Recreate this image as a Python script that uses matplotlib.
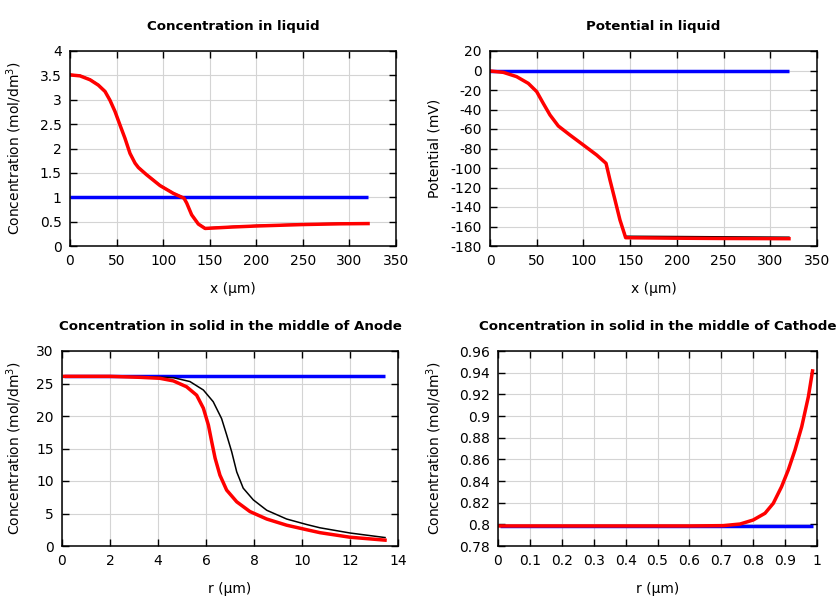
import matplotlib

matplotlib.use("Agg")
import matplotlib.pyplot as plt
from matplotlib.ticker import FuncFormatter, MultipleLocator

plt.rcParams["axes.unicode_minus"] = False
plt.rcParams["font.size"] = 10

# --- concentration in liquid (x in um, mol/dm3)
cl_x = [0, 10.7, 21.5, 30.4, 37.6, 42.9, 48.3, 53.7, 59, 64.4, 69.8, 73.4, 82.3, 96.6, 110.9, 122.4,
        125.3, 130.6, 137.8, 145, 175, 200, 250, 290, 320]
cl_red = [3.51, 3.49, 3.41, 3.30, 3.17, 2.99, 2.76, 2.48, 2.21, 1.90, 1.70, 1.61, 1.46, 1.24, 1.08, 0.98,
          0.88, 0.64, 0.45, 0.36, 0.39, 0.41, 0.44, 0.455, 0.46]
cl_black = [3.52, 3.50, 3.42, 3.31, 3.18, 3.00, 2.77, 2.49, 2.22, 1.91, 1.71, 1.62, 1.47, 1.25, 1.09, 0.99,
            0.89, 0.65, 0.46, 0.37, 0.40, 0.42, 0.45, 0.465, 0.47]
cl_blue_x = [0, 320]
cl_blue = [1.0, 1.0]

# --- potential in liquid (mV)
pl_x = [0, 14.3, 28.5, 41, 50, 57, 64.2, 73.1, 85.6, 99.9, 114.2, 124.2, 128.4, 133.8, 139.1, 145.2, 200, 250, 320]
pl_red = [-0.5, -1.9, -6.3, -13.2, -21.7, -33.7, -45.6, -56.9, -66.2, -76.4, -86.7, -95.2, -112.3, -132.8,
          -153.3, -171.5, -172, -172.3, -172.5]
pl_black = [-0.5, -1.9, -6.3, -13.2, -21.7, -33.7, -45.6, -56.9, -66.2, -76.4, -86.7, -95.2, -112.3, -132.8,
            -153.3, -170, -170.3, -170.6, -171]
pl_blue_x = [0, 320]
pl_blue = [0, 0]

# --- concentration in solid, anode (r in um)
an_r_red = [0.1, 2.0, 3.25, 4.08, 4.64, 5.19, 5.61, 5.89, 6.10, 6.24, 6.38, 6.58, 6.86, 7.28, 7.83, 8.53,
            9.36, 10.2, 10.75, 12.0, 13.46]
an_red = [26.1, 26.1, 25.95, 25.8, 25.4, 24.5, 23.2, 21.2, 18.6, 16.0, 13.5, 10.9, 8.6, 6.8, 5.3, 4.15,
          3.2, 2.5, 2.05, 1.35, 0.9]
an_r_black = [0.1, 2.0, 3.5, 4.64, 5.33, 5.89, 6.30, 6.65, 6.86, 7.07, 7.28, 7.55, 7.97, 8.53, 9.36, 10.2,
              10.75, 12.0, 13.46]
an_black = [26.1, 26.1, 26.05, 25.9, 25.3, 24.0, 22.2, 19.6, 17.1, 14.5, 11.4, 8.9, 7.1, 5.5, 4.15, 3.3,
            2.8, 2.0, 1.3]
an_blue_r = [0.1, 13.46]
an_blue = [26.1, 26.1]

# --- concentration in solid, cathode (r normalised)
ca_r = [0.005, 0.3, 0.6, 0.706, 0.759, 0.80, 0.837, 0.863, 0.889, 0.910, 0.931, 0.952, 0.973, 0.986]
ca_red = [0.7985, 0.7985, 0.7985, 0.7988, 0.8003, 0.804, 0.8102, 0.8194, 0.8348, 0.8502, 0.8686, 0.890,
          0.9179, 0.9416]
ca_blue_r = [0.005, 0.986]
ca_blue = [0.7985, 0.7985]

panels = [
    dict(rect=[70 / 840, 354 / 600, 326 / 840, 195 / 600], title="Concentration in liquid",
         xlabel="x (µm)", ylabel="Concentration (mol/dm$^3$)", ylab_x=-0.172,
         xlim=(0, 350), xstep=50, ylim=(0, 4), ystep=0.5,
         blue=(cl_blue_x, cl_blue), black=(cl_x, cl_black), red=(cl_x, cl_red)),
    dict(rect=[490 / 840, 354 / 600, 327 / 840, 195 / 600], title="Potential in liquid",
         xlabel="x (µm)", ylabel="Potential (mV)", ylab_x=-0.171,
         xlim=(0, 350), xstep=50, ylim=(-180, 20), ystep=20,
         blue=(pl_blue_x, pl_blue), black=(pl_x, pl_black), red=(pl_x, pl_red)),
    dict(rect=[62 / 840, 54 / 600, 336 / 840, 195 / 600], title="Concentration in solid in the middle of Anode",
         xlabel="r (µm)", ylabel="Concentration (mol/dm$^3$)", ylab_x=-0.143,
         xlim=(0, 14), xstep=2, ylim=(0, 30), ystep=5,
         blue=(an_blue_r, an_blue), black=(an_r_black, an_black), red=(an_r_red, an_red)),
    dict(rect=[498 / 840, 54 / 600, 319 / 840, 195 / 600], title="Concentration in solid in the middle of Cathode",
         xlabel="r (µm)", ylabel="Concentration (mol/dm$^3$)", ylab_x=-0.2,
         xlim=(0, 1), xstep=0.1, ylim=(0.78, 0.96), ystep=0.02,
         blue=(ca_blue_r, ca_blue), black=(ca_r, ca_red), red=(ca_r, ca_red)),
]

fmt = FuncFormatter(lambda v, p: "%g" % round(v, 6))

fig = plt.figure(figsize=(8.4, 6), dpi=100)
for p in panels:
    ax = fig.add_axes(p["rect"])
    ax.plot(*p["blue"], color="#0000ff", lw=2.5, solid_capstyle="butt")
    ax.plot(*p["black"], color="black", lw=1.1)
    ax.plot(*p["red"], color="#ff0000", lw=2.5)
    ax.set_xlim(*p["xlim"]); ax.set_ylim(*p["ylim"])
    ax.xaxis.set_major_locator(MultipleLocator(p["xstep"]))
    ax.yaxis.set_major_locator(MultipleLocator(p["ystep"]))
    ax.xaxis.set_major_formatter(fmt); ax.yaxis.set_major_formatter(fmt)
    ax.tick_params(direction="in", top=True, right=True, length=5, width=1, labelsize=10, pad=6)
    ax.grid(True, color="#d4d4d4", lw=0.8)
    ax.set_axisbelow(True)
    for sp in ax.spines.values():
        sp.set_linewidth(1.1)
    ax.set_title(p["title"], fontsize=9.6, fontweight="bold", y=1.128, va="center", pad=0)
    ax.set_xlabel(p["xlabel"], fontsize=10)
    ax.xaxis.set_label_coords(0.5, -0.185)
    ax.set_ylabel(p["ylabel"], fontsize=10, va="center")
    ax.yaxis.set_label_coords(p["ylab_x"], 0.5)

fig.savefig("out.png", dpi=100)
